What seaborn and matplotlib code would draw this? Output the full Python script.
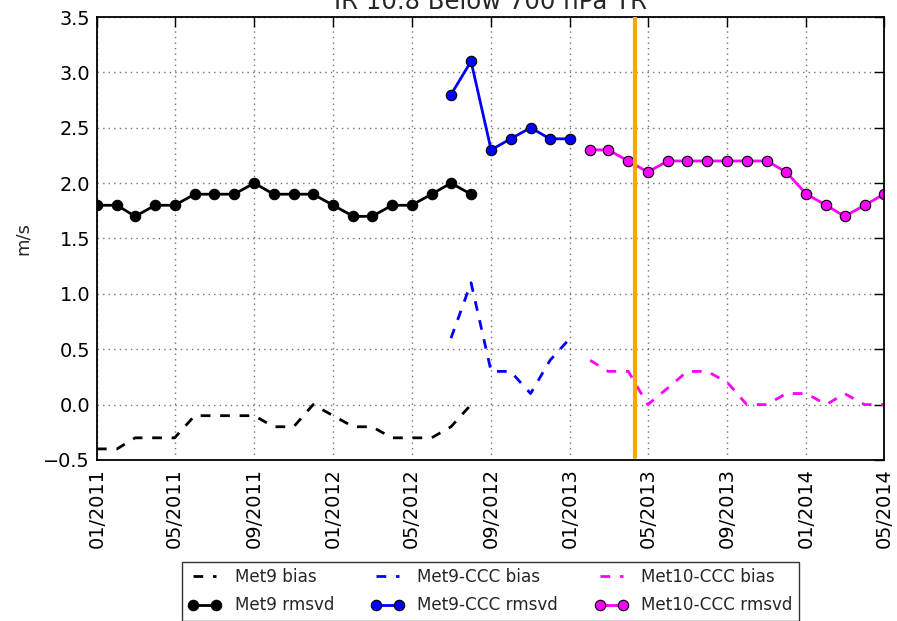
import matplotlib
matplotlib.use("Agg")
import matplotlib.pyplot as plt
import matplotlib.dates as mdates
from matplotlib.ticker import MultipleLocator
import numpy as np
import pandas as pd
import seaborn as sns

# Monthly series (first month of each record)
met9_start = "2011-01-01"
met9_bias = [-0.4, -0.4, -0.3, -0.3, -0.3, -0.1, -0.1, -0.1, -0.1, -0.2,
             -0.2, 0.0, -0.1, -0.2, -0.2, -0.3, -0.3, -0.3, -0.2, 0.0]
met9_rmsvd = [1.8, 1.8, 1.7, 1.8, 1.8, 1.9, 1.9, 1.9, 2.0, 1.9,
              1.9, 1.9, 1.8, 1.7, 1.7, 1.8, 1.8, 1.9, 2.0, 1.9]

met9ccc_start = "2012-07-01"
met9ccc_bias = [0.6, 1.1, 0.3, 0.3, 0.1, 0.4, 0.6]
met9ccc_rmsvd = [2.8, 3.1, 2.3, 2.4, 2.5, 2.4, 2.4]

met10ccc_start = "2013-02-01"
met10ccc_bias = [0.4, 0.3, 0.3, 0.0, 0.15, 0.3, 0.3, 0.2,
                 0.0, 0.0, 0.1, 0.1, 0.0, 0.1, 0.0, 0.0]
met10ccc_rmsvd = [2.3, 2.3, 2.2, 2.1, 2.2, 2.2, 2.2, 2.2,
                  2.2, 2.2, 2.1, 1.9, 1.8, 1.7, 1.8, 1.9]

switch_date = "2013-04-12"
x_range = ("2011-01-01", "2014-05-01")
y_range = (-0.5, 3.5)
title = "IR 10.8 Below 700 hPa TR"
ylabel = "m/s"


def monthly(start, bias, rmsvd):
    dates = pd.date_range(start, periods=len(bias), freq="MS")
    return pd.DataFrame({"date": dates, "bias": bias, "rmsvd": rmsvd})


series = [
    ("Met9", monthly(met9_start, met9_bias, met9_rmsvd), "black"),
    ("Met9-CCC", monthly(met9ccc_start, met9ccc_bias, met9ccc_rmsvd), "#0000ff"),
    ("Met10-CCC", monthly(met10ccc_start, met10ccc_bias, met10ccc_rmsvd), "#ff00ff"),
]

sns.set_theme(style="white")
plt.rcParams["font.family"] = ["DejaVu Sans"]
plt.rcParams["lines.scale_dashes"] = False

fig = plt.figure(figsize=(8.97, 6.21), dpi=100)
ax = fig.add_axes([0.1081, 0.2593, 0.8774, 0.7133])

handles = []
for name, df, color in series:
    sns.lineplot(data=df, x="date", y="bias", ax=ax, color=color, lw=2,
                 linestyle=(0, (7, 7)), label=f"{name} bias")
    h_bias = ax.get_lines()[-1]
    sns.lineplot(data=df, x="date", y="rmsvd", ax=ax, color=color, lw=2,
                 marker="o", markersize=7.5, markeredgecolor="black",
                 markeredgewidth=0.8, label=f"{name} rmsvd")
    h_rms = ax.get_lines()[-1]
    handles += [h_bias, h_rms]

ax.axvline(pd.Timestamp(switch_date), ymin=0.007, ymax=1, color="#ffa500",
           lw=3, zorder=5)

ax.set_xlim(pd.Timestamp(x_range[0]), pd.Timestamp(x_range[1]))
ax.set_ylim(*y_range)
ax.yaxis.set_major_locator(MultipleLocator(0.5))
ax.xaxis.set_major_locator(mdates.MonthLocator(bymonth=[1, 5, 9]))
ax.xaxis.set_major_formatter(mdates.DateFormatter("%m/%Y"))

ax.grid(True, color="0.45", linestyle=(0, (1, 3)), linewidth=1)
ax.tick_params(direction="in", length=7, width=1, top=True, right=True,
               labelsize=13.9, colors="black")
ax.tick_params(axis="x", pad=6, labelrotation=90)
ax.tick_params(axis="y", pad=5)
for s in ax.spines.values():
    s.set_color("black")
    s.set_linewidth(1.3)

ax.set_xlabel("")
ax.set_ylabel(ylabel, fontsize=13)
ax.yaxis.set_label_coords(-0.0826, 0.5)
ax.set_title(title, fontsize=17.6, pad=6)

leg = ax.legend(handles=handles, labels=[h.get_label() for h in handles],
                loc="upper center", bbox_to_anchor=(0.5, -0.2302),
                borderaxespad=0, ncol=3, fontsize=12.1, numpoints=2,
                handlelength=1.95, handletextpad=0.8, columnspacing=2.2,
                borderpad=0.38, labelspacing=0.6, fancybox=False,
                frameon=True)
leg.get_frame().set_edgecolor("black")
leg.get_frame().set_linewidth(1.0)

fig.savefig("out.png", dpi=100)
